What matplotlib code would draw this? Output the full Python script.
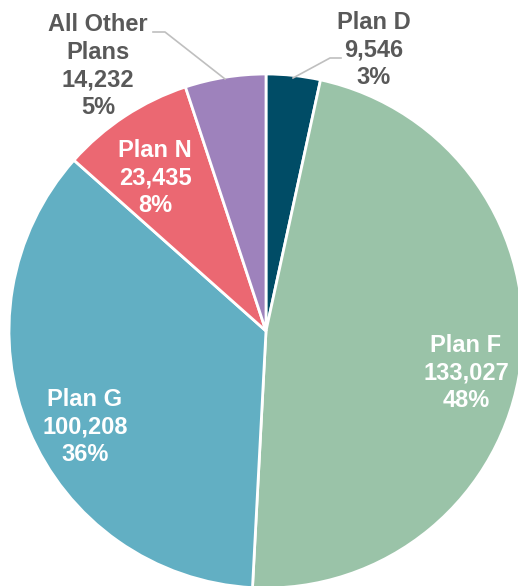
import matplotlib.pyplot as plt

plt.rcParams['font.family'] = ['Liberation Sans', 'DejaVu Sans']

plans = ['Plan D', 'Plan F', 'Plan G', 'Plan N', 'All Other\nPlans']
counts = [9546, 133027, 100208, 23435, 14232]
pcts = [3, 48, 36, 8, 5]  # as printed on the chart
colors = ['#004c66', '#9ac3a8', '#62afc3', '#eb6872', '#9e82bc']

labels = [f"{p}\n{c:,}\n{q}%" for p, c, q in zip(plans, counts, pcts)]

fig = plt.figure(figsize=(5.18, 5.86), dpi=100)
ax = fig.add_axes([0, 0, 1, 1])

# pie in pixel coords (y flipped)
cx, cy, r = 266, 586 - 331, 257
ax.pie(counts, colors=colors, startangle=90, counterclock=False,
       center=(cx, cy), radius=r, frame=True,
       wedgeprops=dict(edgecolor='white', linewidth=2))
ax.set_xlim(0, 518)
ax.set_ylim(0, 586)
ax.axis('off')

gray = '#595959'
white = 'white'
fs = 17
# label positions (pixel coords from top-left)
pos = [(374, 50, gray), (466, 373, white), (85, 427, white), (155, 178, white), (98, 66, gray)]
for lab, (x, y, col) in zip(labels, pos):
    ax.text(x, 586 - y, lab, ha='center', va='center', fontsize=fs,
            fontweight='bold', color=col, linespacing=1.27)

# leader lines
ax.plot([293, 330, 341], [586 - 78, 586 - 58, 586 - 58], color='#bfbfbf', lw=1.2)
ax.plot([153, 165, 225], [586 - 32, 586 - 32, 586 - 79], color='#bfbfbf', lw=1.2)

fig.savefig('out.png', dpi=100)
